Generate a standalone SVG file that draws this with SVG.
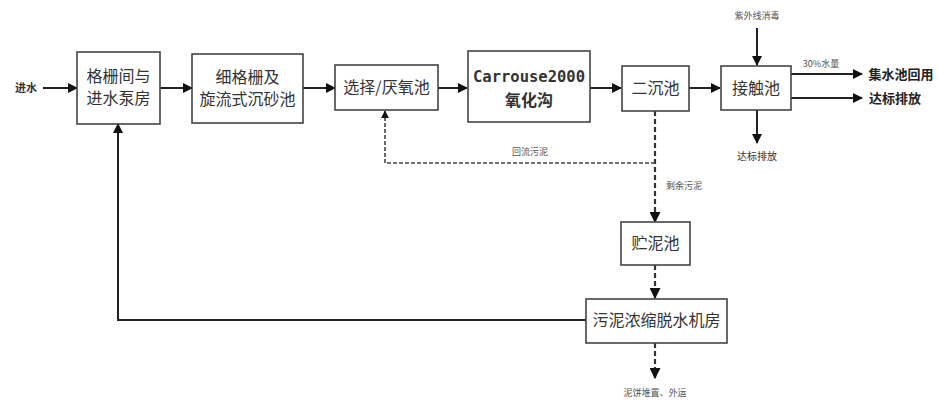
<svg xmlns="http://www.w3.org/2000/svg" width="939" height="401" viewBox="0 0 939 401">
<style>
.box{fill:#fff;stroke:#444;stroke-width:1.6}
.t{font-family:"Noto Sans CJK SC","Liberation Sans",sans-serif;fill:#333;text-anchor:middle}
.mono{font-family:"DejaVu Sans Mono","Liberation Mono",monospace;font-size:15.5px;font-weight:bold}
.big{font-size:16px}
.sm{font-size:9px;fill:#555}
.lbl{font-size:13px;font-weight:bold;fill:#222}
.ln{fill:none;stroke:#222;stroke-width:2}
.dash{fill:none;stroke:#333;stroke-width:2.2;stroke-dasharray:5 3}
.dashthin{fill:none;stroke:#444;stroke-width:1.6;stroke-dasharray:4 2}
</style>
<defs>
<marker id="ah" viewBox="0 0 10 10" refX="9" refY="5" markerWidth="5" markerHeight="5" orient="auto" markerUnits="strokeWidth">
<path d="M0,0 L10,5 L0,10 z" fill="#111"/>
</marker>
</defs>
<rect width="939" height="401" fill="#fff"/>
<g id="connectors">
<line class="ln" x1="43" y1="88" x2="77" y2="88" marker-end="url(#ah)"/>
<line class="ln" x1="160" y1="88" x2="192" y2="88" marker-end="url(#ah)"/>
<line class="ln" x1="303" y1="88" x2="335" y2="88" marker-end="url(#ah)"/>
<line class="ln" x1="438" y1="88" x2="467" y2="88" marker-end="url(#ah)"/>
<line class="ln" x1="590" y1="88" x2="621" y2="88" marker-end="url(#ah)"/>
<line class="ln" x1="689" y1="88" x2="720" y2="88" marker-end="url(#ah)"/>
<line class="ln" x1="757" y1="28" x2="757" y2="65" marker-end="url(#ah)"/>
<line class="ln" x1="791" y1="74" x2="862" y2="74" marker-end="url(#ah)"/>
<line class="ln" x1="791" y1="98" x2="862" y2="98" marker-end="url(#ah)"/>
<line class="ln" x1="757" y1="110" x2="757" y2="143" marker-end="url(#ah)"/>
<path class="dash" d="M655,111 V222" marker-end="url(#ah)"/>
<path class="dashthin" d="M655,163 H385 V111" marker-end="url(#ah)"/>
<path class="dash" d="M655,265 V298" marker-end="url(#ah)"/>
<path class="dash" d="M655,343 V378" marker-end="url(#ah)"/>
<path class="ln" d="M586,320 H118 V124" marker-end="url(#ah)"/>
</g>
<g id="in"><text class="t" x="26" y="92" font-size="11" font-weight="bold">进水</text></g>
<g id="n1"><rect class="box" x="77" y="52" width="83" height="72"/>
<text class="t big" x="118.5" y="82">格栅间与</text><text class="t big" x="118.5" y="104">进水泵房</text></g>
<g id="n2"><rect class="box" x="192" y="54" width="111" height="69"/>
<text class="t big" x="247.5" y="83">细格栅及</text><text class="t big" x="247.5" y="105">旋流式沉砂池</text></g>
<g id="n3"><rect class="box" x="335" y="65" width="103" height="45"/>
<text class="t big" x="386.5" y="93">选择/厌氧池</text></g>
<g id="n4"><rect class="box" x="468" y="51" width="122" height="71"/>
<text class="t mono" x="529" y="82">Carrouse2000</text>
<text class="t big" x="529" y="106" font-weight="bold">氧化沟</text></g>
<g id="n5"><rect class="box" x="622" y="66" width="67" height="45"/>
<text class="t big" x="655.5" y="94">二沉池</text></g>
<g id="n6"><rect class="box" x="721" y="66" width="70" height="44"/>
<text class="t big" x="756" y="94">接触池</text></g>
<g id="uv"><text class="t sm" x="757" y="19">紫外线消毒</text></g>
<g id="r30"><text class="t sm" x="821" y="67">30%水量</text></g>
<g id="o1"><text class="t lbl" x="901" y="79">集水池回用</text></g>
<g id="o2"><text class="t lbl" x="895" y="103">达标排放</text></g>
<g id="o3"><text class="t" x="757" y="160" font-size="10">达标排放</text></g>
<g id="rs"><text class="t sm" x="530" y="155">回流污泥</text></g>
<g id="es"><text class="t sm" x="684" y="189">剩余污泥</text></g>
<g id="n7"><rect class="box" x="621" y="222" width="69" height="43"/>
<text class="t big" x="655.5" y="249">贮泥池</text></g>
<g id="n8"><rect class="box" x="586" y="299" width="141" height="44"/>
<text class="t big" x="656.5" y="326">污泥浓缩脱水机房</text></g>
<g id="cake"><text class="t sm" x="655" y="396">泥饼堆置、外运</text></g>
</svg>
